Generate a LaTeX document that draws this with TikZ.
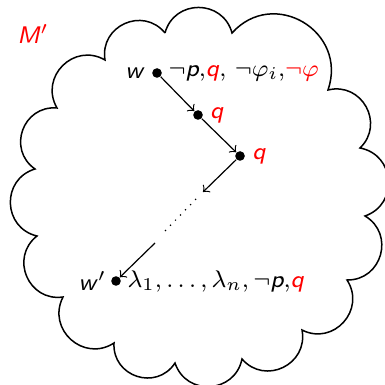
\documentclass[tikz,border=0pt]{standalone}
\usepackage{fontspec}
\usetikzlibrary{positioning}
\newcommand{\mv}[1]{\textsf{\itshape #1}}
\newcommand{\redq}{\textcolor{red}{\mv{q}}}
\begin{document}
\begin{tikzpicture}[
  x=0.0117cm,y=-0.0117cm,
  outline/.style={draw=black, line width=0.5pt},
  puff/.style={bend left=75, looseness=1.35},
  state/.style={circle, fill=black, inner sep=0pt, minimum size=3.2pt},
  lab/.style={inner sep=1pt, font=\footnotesize},
  acc/.style={->, line width=0.4pt}
]
\useasboundingbox (0,0) rectangle (385,385);

% The model as a hand-made cloud, cusp to cusp.
\draw[outline] (165,33) to[puff] (232,33)
  to[out=48, in=71, looseness=1.42] (328,90)
  to[puff] (360,148) to[puff] (365,216) to[puff] (347,280)
  to[puff] (302,330) to[puff] (242,359) to[puff] (175,363)
  to[puff] (114,343) to[puff] (63,297) to[puff] (37,236)
  to[puff] (35,169) to[puff] (57,108) to[puff] (105,60)
  to[puff] (165,33);
\node[text=red, font=\footnotesize] (mname) at (33,34) {\mv{M}$'$};

% States along the chain.
\node[state] (w) at (157,73) {};
\node[state] (s1) at (198,115) {};
\node[state] (s2) at (240,156) {};
\node[state] (wp) at (116,281) {};

\node[lab, anchor=east] (wl) at ([xshift=-0.4mm]w.west) {\mv{w}};
\node[lab, anchor=west] (wf) at ([xshift=0.3mm]w.east)
  {$\neg$\mv{p},\redq, $\neg\varphi_i$,\textcolor{red}{$\neg\varphi$}};
\node[lab, anchor=west] (s1l) at ([xshift=0.35mm]s1.east) {\redq};
\node[lab, anchor=west] (s2l) at ([xshift=0.4mm]s2.east) {\redq};
\node[lab, anchor=east] (wpl) at ([xshift=-0.1mm]wp.west) {\mv{w}$'$};
\node[lab, anchor=west] (wpf) at ([xshift=0.3mm]wp.east)
  {$\lambda_1,\ldots,\lambda_n,\neg$\mv{p},\redq};

% Gap in the chain.
\coordinate (g1) at (203,192);
\coordinate (g2) at (196,199);
\coordinate (g3) at (163,233);
\coordinate (g4) at (155,243);

\draw[acc] (w) -- (s1);
\draw[acc] (s1) -- (s2);
\draw[acc] (s2) -- (g1);
\draw[dotted, line width=0.4pt] (g2) -- (g3);
\draw[acc] (g4) -- (wp);

\end{tikzpicture}
\end{document}
